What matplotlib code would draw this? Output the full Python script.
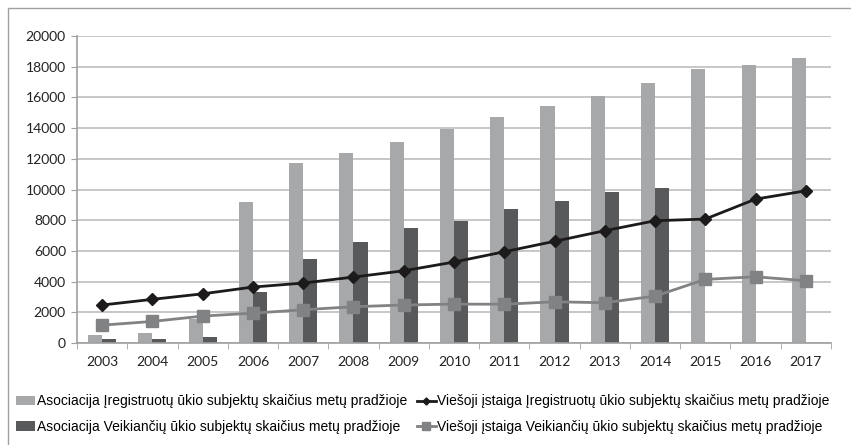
import matplotlib.pyplot as plt
import numpy as np
from matplotlib.patches import Rectangle

years = ["2003", "2004", "2005", "2006", "2007", "2008", "2009", "2010",
         "2011", "2012", "2013", "2014", "2015", "2016", "2017"]
asoc_registered = [520, 630, 1545, 9190, 11710, 12360, 13080, 13920,
                   14700, 15440, 16090, 16920, 17830, 18140, 18570]
asoc_active = [240, 240, 390, 3300, 5490, 6560, 7470, 7930,
               8730, 9270, 9840, 10080, 0, 0, 0]
vi_registered = [2480, 2850, 3210, 3650, 3910, 4300, 4710, 5280,
                 5950, 6630, 7320, 7970, 8080, 9380, 9920]
vi_active = [1170, 1410, 1760, 1950, 2170, 2370, 2480, 2540,
             2530, 2690, 2630, 3060, 4150, 4320, 4060]

labels = ["Asociacija Įregistruotų ūkio subjektų skaičius metų pradžioje",
          "Asociacija Veikiančių ūkio subjektų skaičius metų pradžioje",
          "Viešoji įstaiga Įregistruotų ūkio subjektų skaičius metų pradžioje",
          "Viešoji įstaiga Veikiančių ūkio subjektų skaičius metų pradžioje"]

tick_font = ["Lato", "DejaVu Sans"]
legend_font = ["Liberation Sans Narrow", "Liberation Sans", "DejaVu Sans"]

fig = plt.figure(figsize=(8.51, 4.45), dpi=100)
ax = fig.add_axes([0.0905, 0.229, 0.886, 0.690])

x = np.arange(len(years))
w = 0.28
b1 = ax.bar(x - w / 2, asoc_registered, w, color="#A7A8AA", zorder=2,
            label=labels[0])
b2 = ax.bar(x + w / 2, asoc_active, w, color="#58595B", zorder=2,
            label=labels[1])
l1, = ax.plot(x, vi_registered, color="#1C1A1B", lw=2.0, marker="D",
              ms=6, zorder=3, label=labels[2])
l2, = ax.plot(x, vi_active, color="#818284", lw=2.0, marker="s",
              ms=8.5, zorder=3, label=labels[3])

ax.set_xlim(-0.5, len(years) - 0.5)
ax.set_ylim(0, 20000)
ax.set_yticks(np.arange(0, 20001, 2000))
ax.set_xticks(x)
ax.set_xticklabels(years)
ax.set_xticks(np.arange(-0.5, len(years), 1), minor=True)
ax.tick_params(axis="x", which="major", length=0, pad=9)
ax.tick_params(axis="x", which="minor", length=4, color="#A0A0A0")
ax.tick_params(axis="y", length=4, color="#A0A0A0", pad=4)
for lab in ax.get_xticklabels() + ax.get_yticklabels():
    lab.set_family(tick_font)
    lab.set_fontsize(10)
    lab.set_color("#222222")

ax.grid(axis="y", color="#BDBDBD", lw=1.2, zorder=0)
for s in ["top", "right"]:
    ax.spines[s].set_visible(False)
ax.spines["left"].set_color("#A0A0A0")
ax.spines["bottom"].set_color("#A0A0A0")
ax.spines["left"].set_linewidth(1.2)
ax.spines["bottom"].set_linewidth(1.2)

fig.legend(handles=[b1, b2, l1, l2], labels=labels, ncol=2,
           loc="upper left", bbox_to_anchor=(0.012, 0.126),
           frameon=False, prop={"family": legend_font, "size": 10},
           handlelength=1.4, handletextpad=0.1, columnspacing=0.7,
           labelspacing=0.84, borderaxespad=0, markerscale=0.6)

# outer border
fig.patches.append(Rectangle((8 / 851, -0.1), 1.2, 1 - 8 / 445 + 0.1,
                             transform=fig.transFigure, fill=False,
                             edgecolor="#A0A0A0", lw=1.0))

fig.savefig("out.png", dpi=100)
